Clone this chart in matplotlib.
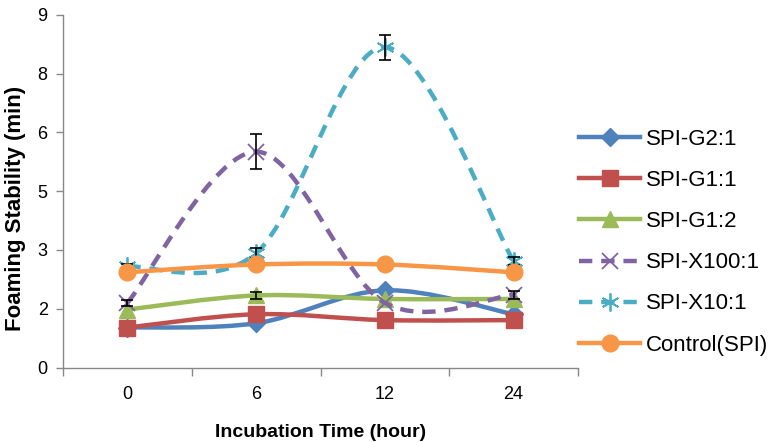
import numpy as np
import matplotlib
matplotlib.use("Agg")
import matplotlib.pyplot as plt
from matplotlib.path import Path
from matplotlib.patches import PathPatch
from matplotlib.lines import Line2D

plt.rcParams['font.family'] = ['Liberation Sans', 'DejaVu Sans']

# data
hours = ['0', '6', '12', '24']
series_names = ['SPI-G2:1', 'SPI-G1:1', 'SPI-G1:2', 'SPI-X100:1', 'SPI-X10:1', 'Control(SPI)']
spi_g2_1 = [1.02, 1.13, 1.97, 1.36]
spi_g1_1 = [1.02, 1.36, 1.21, 1.21]
spi_g1_2 = [1.48, 1.84, 1.75, 1.75]
spi_x100_1 = [1.65, 5.51, 1.65, 1.86]
spi_x10_1 = [2.58, 2.92, 8.18, 2.71]
control = [2.43, 2.63, 2.63, 2.43]

err_g2_1 = [0, 0, 0, 0]
err_g1_1 = [0, 0, 0, 0]
err_g1_2 = [0, 0.08, 0, 0]
err_x100_1 = [0.08, 0.44, 0, 0.1]
err_x10_1 = [0.06, 0.12, 0.32, 0.1]
err_control = [0, 0, 0, 0]

values = [spi_g2_1, spi_g1_1, spi_g1_2, spi_x100_1, spi_x10_1, control]
errors = [err_g2_1, err_g1_1, err_g1_2, err_x100_1, err_x10_1, err_control]
colors = ['#4F81BD', '#C0504D', '#9BBB59', '#8064A2', '#4BACC6', '#F79646']
markers = ['D', 's', '^', 'x', (6, 2, 0), 'o']
msizes = [9, 11, 11, 11, 13, 12]
dashed = [False, False, False, True, True, False]

def smooth_path(xs, ys):
    # excel-like smoothed line drawn as cubic bezier segments
    pts = np.column_stack([xs, ys]).astype(float)
    n = len(pts)
    verts = [pts[0]]
    codes = [Path.MOVETO]
    for i in range(n - 1):
        p0 = pts[i - 1] if i > 0 else pts[i]
        p1 = pts[i]
        p2 = pts[i + 1]
        p3 = pts[i + 2] if i + 2 < n else pts[i + 1]
        c1 = p1 + (p2 - p0) / 6.0
        c2 = p2 - (p3 - p1) / 6.0
        verts += [c1, c2, p2]
        codes += [Path.CURVE4] * 3
    return Path(verts, codes)

fig = plt.figure(figsize=(7.73, 4.42), dpi=100)
ax = fig.add_axes([63 / 773, 74.5 / 442, 515 / 773, 352.5 / 442])

x = np.arange(len(hours))
lw = 3.2
handles = []
for i, name in enumerate(series_names):
    ls = (0, (3, 2)) if dashed[i] else '-'
    patch = PathPatch(smooth_path(x, values[i]), facecolor='none', edgecolor=colors[i],
                      lw=lw, linestyle=ls, zorder=2 + i * 2, capstyle='butt')
    ax.add_patch(patch)
    mew = 1.3 if dashed[i] else 1
    ax.plot(x, values[i], linestyle='none', marker=markers[i], ms=msizes[i],
            color=colors[i], mec=colors[i], mew=mew, zorder=3 + i * 2)
    e = np.array(errors[i])
    sel = e > 0
    if sel.any():
        ax.errorbar(x[sel], np.array(values[i])[sel], yerr=e[sel], fmt='none',
                    ecolor='black', elinewidth=1.2, capsize=4, capthick=1.2, zorder=3 + i * 2)
    handles.append(Line2D([], [], color=colors[i], lw=lw, linestyle=ls, marker=markers[i],
                          ms=msizes[i], mec=colors[i], mew=mew))

ax.set_xlim(-0.5, 3.5)
ax.set_ylim(0, 9)
yt = np.arange(0, 9.01, 1.5)
ax.set_yticks(yt)
ax.set_yticklabels([str(int(v + 0.5)) for v in yt])
ax.set_xticks(np.arange(-0.5, 3.6, 1))
ax.set_xticklabels([])
ax.set_xticks(x, minor=True)
ax.set_xticklabels(hours, minor=True)
ax.tick_params(axis='x', which='major', length=6, color='#888888', width=1)
ax.tick_params(axis='x', which='minor', length=0, pad=13, labelsize=13)
ax.tick_params(axis='y', length=5, color='#888888', width=1, pad=6, labelsize=13)
for s in ['top', 'right']:
    ax.spines[s].set_visible(False)
for s in ['left', 'bottom']:
    ax.spines[s].set_color('#888888')
    ax.spines[s].set_linewidth(1)

ax.set_xlabel('Incubation Time (hour)', fontsize=14, fontweight='bold')
ax.set_ylabel('Foaming Stability (min)', fontsize=16, fontweight='bold')
ax.xaxis.set_label_coords(0.5, -0.16)
ax.yaxis.set_label_coords(-0.072, 0.45)

fig.legend(handles, series_names, loc='upper left', bbox_to_anchor=(579 / 773, 1 - 129 / 442),
           frameon=False, fontsize=16, handlelength=2.75, handletextpad=0.27,
           labelspacing=0.905, borderpad=0, borderaxespad=0, numpoints=1)

fig.savefig('out.png', dpi=100)
